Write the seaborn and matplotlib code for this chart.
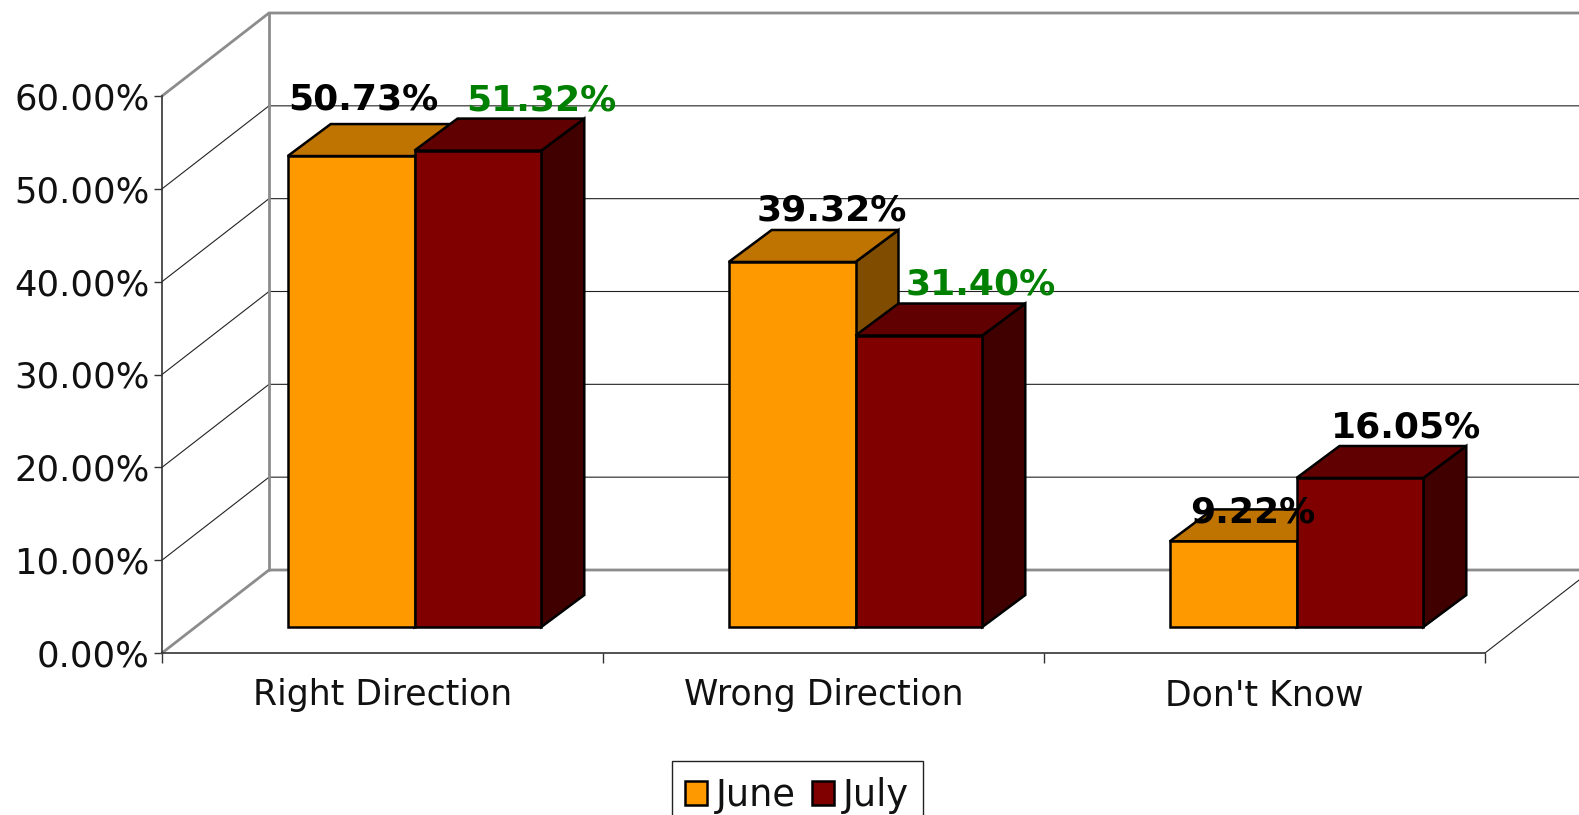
import matplotlib
matplotlib.use("Agg")
import matplotlib.pyplot as plt
import pandas as pd
import seaborn as sns
from matplotlib.patches import Polygon, Rectangle

categories = ["Right Direction", "Wrong Direction", "Don't Know"]
june = [50.73, 39.32, 9.22]
july = [51.32, 31.40, 16.05]
y_ticks = [0, 10, 20, 30, 40, 50, 60]

june_label_colors = ["black", "black", "black"]
july_label_colors = ["#008000", "#008000", "black"]
# hand placed data labels in the original, pixels from top centre of the front face
june_label_offsets = [(12, 47), (40, 41), (20, 19)]
july_label_offsets = [(63, 40), (62, 41), (46, 41)]

W, H = 1579, 815
LEFT, RIGHT, Y0, Y60 = 162, 1485, 653, 96
PX_X = (RIGHT - LEFT) / 3
PX_Y = (Y0 - Y60) / 60

# depth of the fake 3D box and bars, in data units
WALL_DX, WALL_DY = 107 / PX_X, 83 / PX_Y
BAR_DX, BAR_DY = 43 / PX_X, 32 / PX_Y
SHIFT_X, SHIFT_Y = 32 / PX_X, 26 / PX_Y
EDGE = 1.8

FACES = {
    "June": ("#FF9900", "#BF7300", "#7F4C00"),
    "July": ("#800000", "#600000", "#400000"),
}

sns.set_theme(style="white")
plt.rcParams["font.family"] = ["DejaVu Sans"]

df = pd.DataFrame({
    "category": categories * 2,
    "month": ["June"] * 3 + ["July"] * 3,
    "value": june + july,
})

fig = plt.figure(figsize=(W / 100, H / 100), dpi=100)
ax = fig.add_axes([LEFT / W, 1 - Y0 / H, (RIGHT - LEFT) / W, (Y0 - Y60) / H])

sns.barplot(
    data=df, x="category", y="value", hue="month", order=categories,
    palette={m: c[0] for m, c in FACES.items()}, width=0.575, gap=0, saturation=1,
    edgecolor="black", linewidth=EDGE, errorbar=None, ax=ax, zorder=5,
)
ax.set_xlim(-0.5, 2.5)
ax.set_ylim(0, 60)

# walls and gridlines
x0, x1 = -0.5, 2.5
for t in y_ticks:
    heavy = t in (0, 60)
    color = "#8c8c8c" if heavy else "#222222"
    lw = 2.0 if heavy else 0.8
    ax.plot([x0, x0 + WALL_DX, x1 + WALL_DX], [t, t + WALL_DY, t + WALL_DY],
            color=color, lw=lw, clip_on=False, zorder=1, solid_joinstyle="miter")
ax.plot([x0 + WALL_DX] * 2, [WALL_DY, 60 + WALL_DY], color="#8c8c8c", lw=2.0, clip_on=False, zorder=2)
ax.plot([x1, x1 + WALL_DX], [0, WALL_DY], color="#222222", lw=0.8, clip_on=False, zorder=1)

# move the front faces back onto the floor and add top and side faces
order = 5
for month, bars, values, colors, offsets in [
    ("June", ax.containers[0], june, june_label_colors, june_label_offsets),
    ("July", ax.containers[1], july, july_label_colors, july_label_offsets),
]:
    front, top, side = FACES[month]
    for bar, val, col, off in zip(bars, values, colors, offsets):
        bar.set_x(bar.get_x() + SHIFT_X)
        bar.set_y(SHIFT_Y)
        bar.set_clip_on(False)
        a, b = bar.get_x(), bar.get_x() + bar.get_width()
        y_lo, y_hi = SHIFT_Y, SHIFT_Y + val
        side_pts = [(b, y_lo), (b + BAR_DX, y_lo + BAR_DY), (b + BAR_DX, y_hi + BAR_DY), (b, y_hi)]
        top_pts = [(a, y_hi), (a + BAR_DX, y_hi + BAR_DY), (b + BAR_DX, y_hi + BAR_DY), (b, y_hi)]
        for pts, face in [(side_pts, side), (top_pts, top)]:
            ax.add_patch(Polygon(pts, closed=True, facecolor=face, edgecolor="black",
                                 linewidth=EDGE, clip_on=False, zorder=order))
        bar.set_zorder(order + 0.5)
        ax.annotate(f"{val:.2f}%", xy=((a + b) / 2, y_hi), xytext=off, textcoords="offset pixels",
                    ha="center", va="baseline", fontsize=26, fontweight="bold", color=col,
                    annotation_clip=False, zorder=20)
    order += 1

# axes
sns.despine(ax=ax, top=True, right=True)
for name in ("left", "bottom"):
    ax.spines[name].set_color("#333333")
    ax.spines[name].set_linewidth(1.2)
ax.set_xlabel("")
ax.set_ylabel("")
ax.set_yticks(y_ticks)
ax.set_yticklabels([f"{t:.2f}%" for t in y_ticks], fontsize=25.5, color="#111111")
ax.set_xticks([-0.5, 0.5, 1.5, 2.5])
ax.set_xticklabels([])
ax.set_xticks([0, 1, 2], categories, minor=True, fontsize=25, color="#111111")
ax.tick_params(axis="y", length=6, width=1.0, color="#333333", pad=3, left=True)
ax.tick_params(axis="x", which="major", length=7, width=1.0, color="#333333", bottom=True)
ax.tick_params(axis="x", which="minor", length=0, pad=18)

# legend frame runs off the bottom of the canvas
fig.add_artist(Rectangle((672 / W, 1 - 840 / H), 251 / W, 79 / H, transform=fig.transFigure,
                         facecolor="white", edgecolor="#222222", linewidth=1.0, zorder=-1))
handles = [ax.containers[0][0], ax.containers[1][0]]
leg = ax.legend(
    handles, ["June", "July"], ncols=2, loc="upper left",
    bbox_to_anchor=(685 / W, 1 - 777 / H), bbox_transform=fig.transFigure,
    borderaxespad=0, fontsize=26.5, frameon=False, labelcolor="#111111",
    handlelength=0.6, handleheight=0.6, handletextpad=0.25, columnspacing=0.42,
    borderpad=0,
)
leg.set_zorder(30)

fig.savefig("out.png", dpi=100)
